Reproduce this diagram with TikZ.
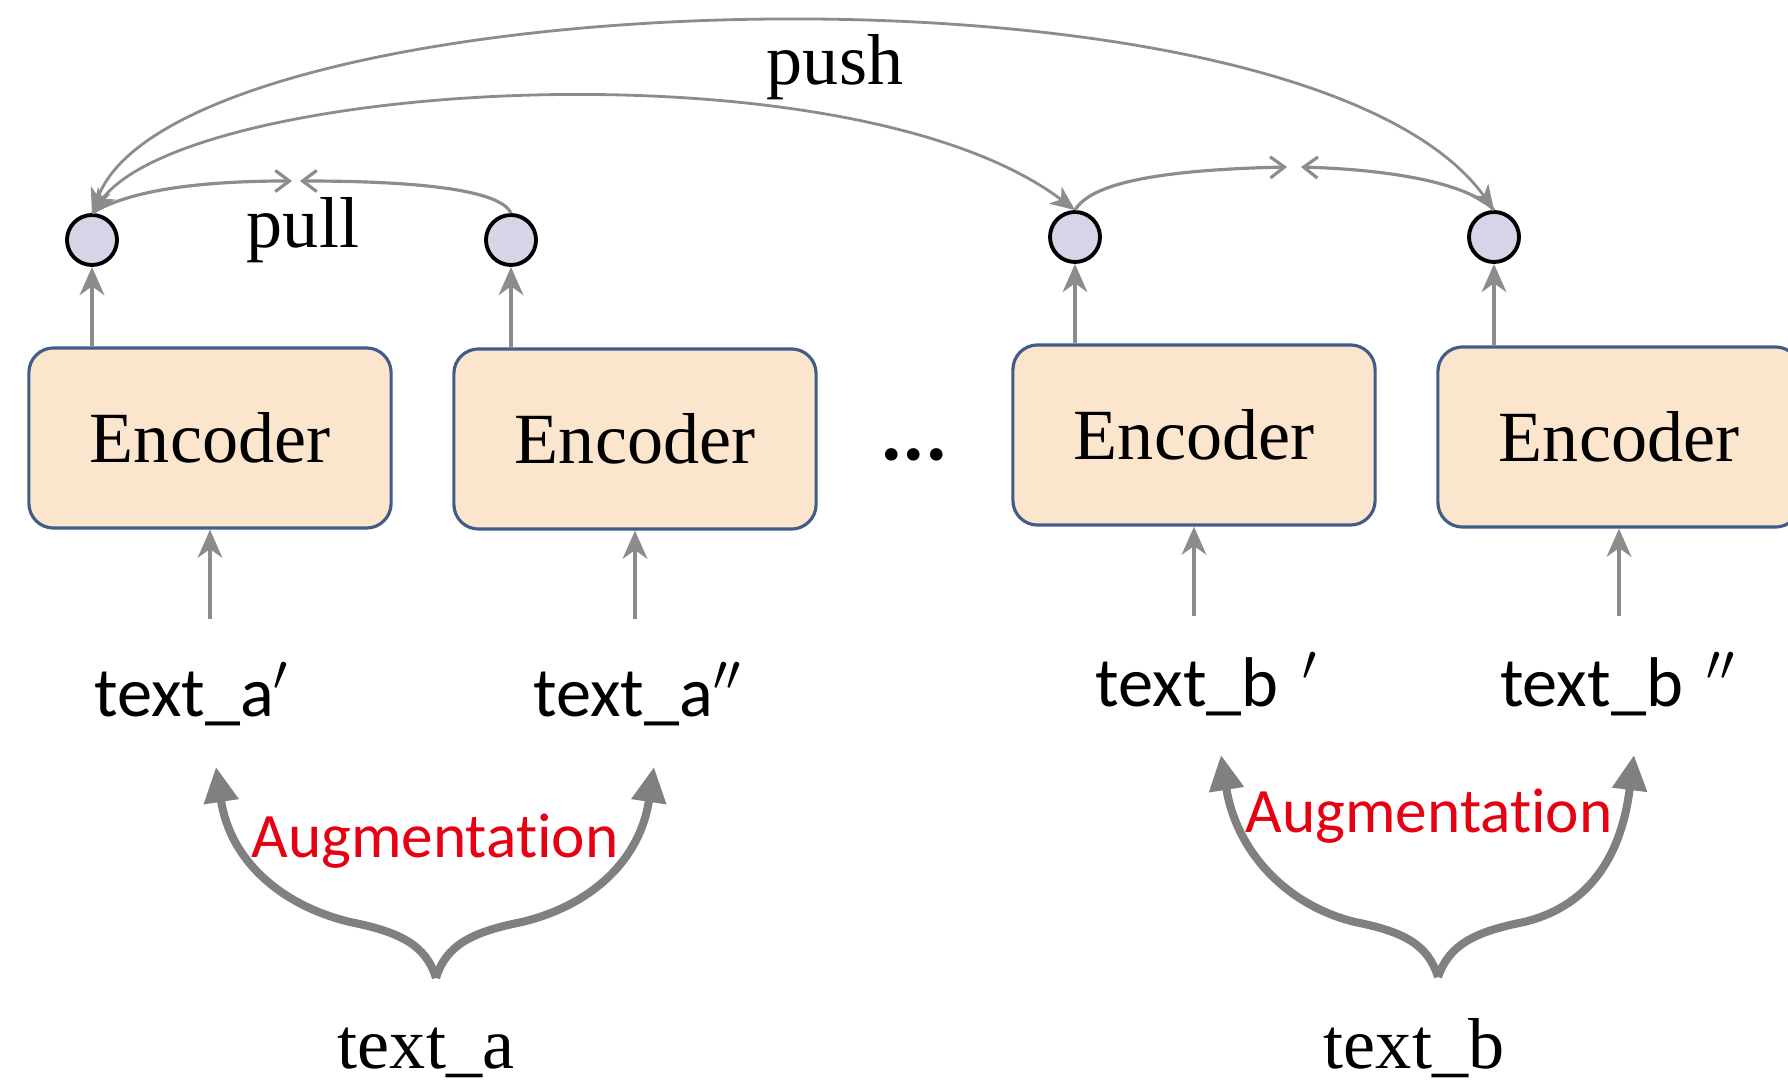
\documentclass[tikz,border=0pt]{standalone}
\usepackage{fontspec}
\setmainfont{Liberation Serif}
\newfontfamily\calfont[Ligatures=NoCommon]{Carlito}
\usetikzlibrary{arrows.meta}

\definecolor{boxfill}{RGB}{252,229,205}
\definecolor{boxline}{RGB}{66,92,138}
\definecolor{dotfill}{RGB}{217,211,232}
\definecolor{linkgray}{RGB}{140,140,140}
\definecolor{bracegray}{RGB}{128,128,128}
\definecolor{augred}{RGB}{230,0,18}

\begin{document}
\begin{tikzpicture}[x=0.01cm,y=-0.01cm,
  encbox/.style={draw=boxline, line width=0.9pt, fill=boxfill, rounded corners=7pt,
    minimum width=3.62cm, minimum height=1.8cm, inner sep=0pt,
    font=\fontsize{20.5}{24}\selectfont},
  embed/.style={circle, draw=black, line width=1.1pt, fill=dotfill,
    minimum size=0.5cm, inner sep=0pt},
  seriflabel/.style={inner sep=0pt, font=\fontsize{20.5}{24}\selectfont},
  sanslabel/.style={inner sep=0pt, font=\calfont\fontsize{20}{24}\selectfont},
  auglabel/.style={inner sep=0pt, text=augred, font=\calfont\fontsize{18}{22}\selectfont},
  feed/.style={draw=linkgray, line width=1pt, -{Stealth[length=8pt,width=7pt,inset=2.5pt]}},
  contrast/.style={draw=linkgray, line width=0.8pt,
    {Stealth[length=7pt,width=6pt,inset=2pt]}-{Stealth[length=7pt,width=6pt,inset=2pt]}},
  pullarr/.style={draw=linkgray, line width=0.9pt, -{Straight Barb[length=4pt,width=6pt]}},
  bracearr/.style={draw=bracegray, line width=2.3pt, -{Triangle[length=10pt,width=9.5pt]}}
]
\useasboundingbox (0,0) rectangle (1788,1086);
\fill[white] (0,0) rectangle (1788,1086);
\clip (0,0) rectangle (1788,1086);

% encoders
\node[encbox] (e1) at (210,438) {Encoder};
\node[encbox] (e2) at (635,439) {Encoder};
\node[encbox] (e3) at (1194,435) {Encoder};
\node[encbox] (e4) at (1619,437) {Encoder};
\node[inner sep=0pt, font=\calfont\bfseries\fontsize{24}{28}\selectfont] (dots) at (914,455) {...};

% embeddings
\node[embed] (c1) at (92,240) {};
\node[embed] (c2) at (511,240) {};
\node[embed] (c3) at (1075,237) {};
\node[embed] (c4) at (1494,237) {};

\draw[feed] (c1 |- e1.north) -- (c1.south);
\draw[feed] (c2 |- e2.north) -- (c2.south);
\draw[feed] (c3 |- e3.north) -- (c3.south);
\draw[feed] (c4 |- e4.north) -- (c4.south);

% augmented inputs
\node[sanslabel, anchor=base] (ta1) at (192,717) {text\_a$'$};
\node[sanslabel, anchor=base] (ta2) at (638,717) {text\_a$''$};
\node[sanslabel, anchor=base] (tb1) at (1207,707) {text\_b\,\,$'$};
\node[sanslabel, anchor=base] (tb2) at (1618,707) {text\_b\,\,$''$};

\coordinate (i1) at (210,619);
\coordinate (i2) at (635,619);
\coordinate (i3) at (1194,616);
\coordinate (i4) at (1619,616);
\draw[feed] (i1) -- (e1.south);
\draw[feed] (i2) -- (e2.south);
\draw[feed] (i3) -- (e3.south);
\draw[feed] (i4) -- (e4.south);

% contrastive links
\draw[contrast] (c1.north) .. controls (180,-20) and (1300,-60) .. (c4.north);
\draw[contrast] (c1.north) .. controls (190,80) and (850,40) .. (c3.north);
\node[seriflabel, anchor=base] (push) at (835,85) {push};
\node[seriflabel, anchor=base] (pull) at (303,248) {pull};

\coordinate (pl) at (292,181);
\coordinate (pr) at (300,181);
\coordinate (ql) at (1287,167);
\coordinate (qr) at (1301,167);
\draw[pullarr] (c1.north) .. controls (130,190) and (200,181) .. (pl);
\draw[pullarr] (c2.north) .. controls (500,190) and (420,181) .. (pr);
\draw[pullarr] (c3.north) .. controls (1090,185) and (1150,170) .. (ql);
\draw[pullarr] (c4.north) .. controls (1470,185) and (1400,170) .. (qr);

% augmentation of the source texts
\node[seriflabel, anchor=base] (sa) at (426,1068) {text\_a};
\node[seriflabel, anchor=base] (sb) at (1414,1068) {text\_b};
\node[auglabel, anchor=base] (aug1) at (435,857) {Augmentation};
\node[auglabel, anchor=base] (aug2) at (1429,833) {Augmentation};

\coordinate (ka) at (436,978);
\coordinate (ka1) at (216,767);
\coordinate (ka2) at (654,767);
\draw[bracearr] (ka) .. controls (426,945) and (400,932) .. (350,922)
  .. controls (280,905) and (230,860) .. (ka1);
\draw[bracearr] (ka) .. controls (446,945) and (472,932) .. (522,922)
  .. controls (592,905) and (640,860) .. (ka2);

\coordinate (kb) at (1438,977);
\coordinate (kb1) at (1221,755);
\coordinate (kb2) at (1634,755);
\draw[bracearr] (kb) .. controls (1428,945) and (1405,932) .. (1355,922)
  .. controls (1285,905) and (1236,850) .. (kb1);
\draw[bracearr] (kb) .. controls (1449,945) and (1474,932) .. (1524,922)
  .. controls (1594,905) and (1622,850) .. (kb2);
\end{tikzpicture}
\end{document}
